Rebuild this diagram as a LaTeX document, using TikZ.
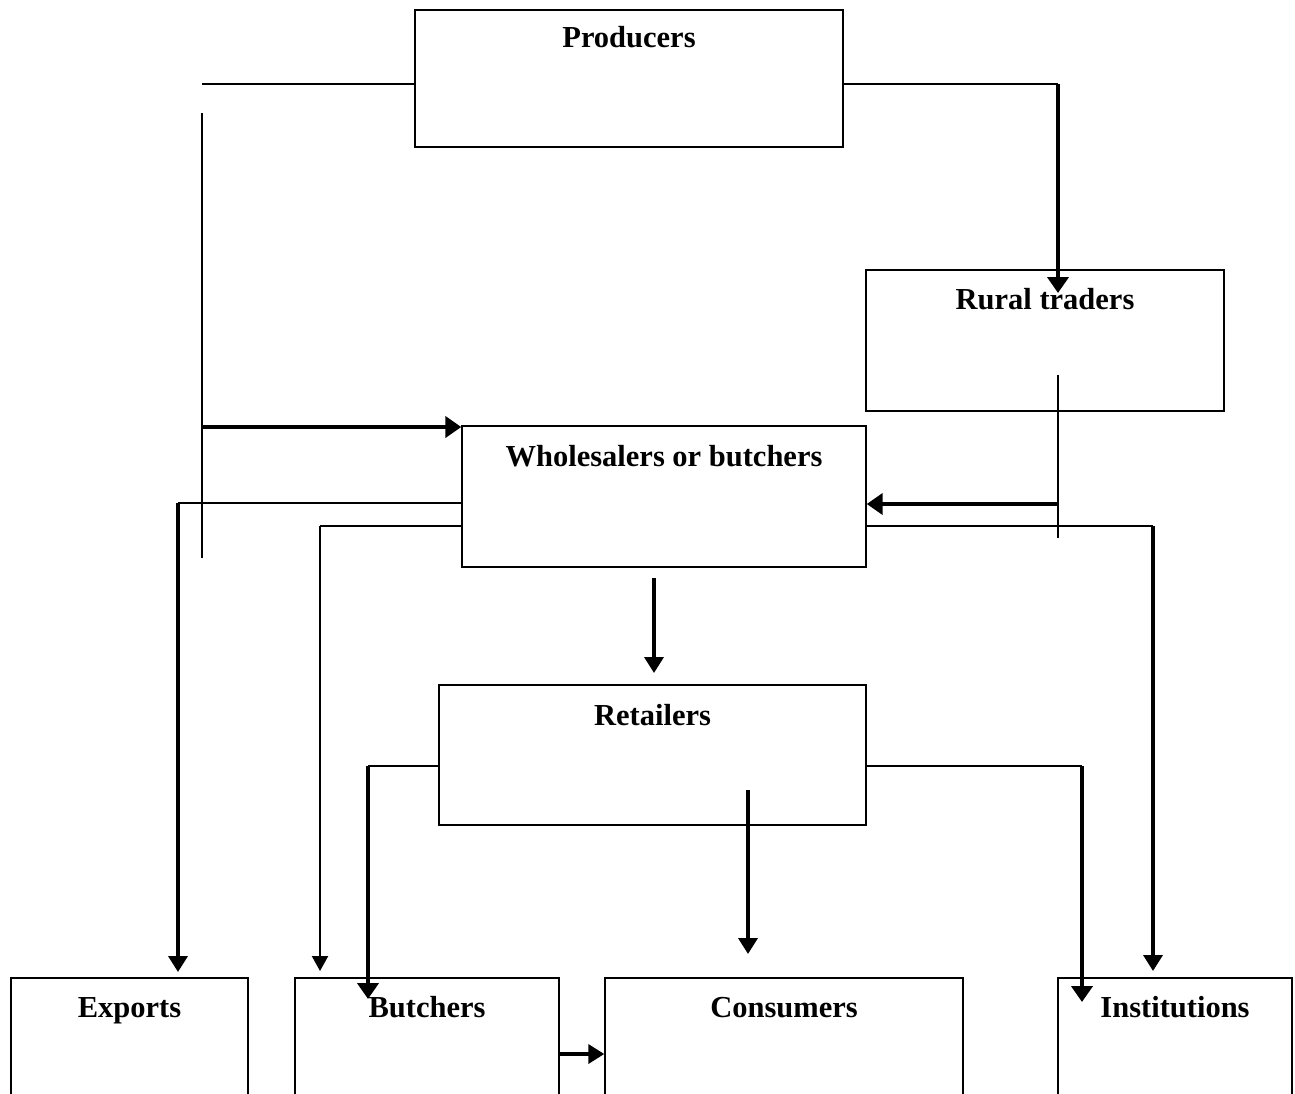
\documentclass[tikz,border=0pt]{standalone}
\usepackage{fontspec}
\setmainfont{Liberation Serif}
\usetikzlibrary{arrows.meta}
\begin{document}
\begin{tikzpicture}[x=1pt,y=-1pt,
  bx/.style={draw, line width=1.4pt, inner sep=0pt},
  lbl/.style={anchor=base, inner sep=0pt, font=\fontsize{30.5}{36}\selectfont\bfseries},
  thinl/.style={line width=1.4pt},
  medl/.style={line width=2.2pt, -{Triangle[length=15pt,width=16pt]}},
  thkl/.style={line width=3.6pt, -{Triangle[length=16pt,width=19pt]}},
  thkk/.style={line width=4.6pt, -{Triangle[length=16pt,width=21pt]}}]
\useasboundingbox (0,0) rectangle (1295,1093);
\clip (0,0) rectangle (1295,1093);
% boxes
\node[bx, minimum width=428pt, minimum height=137pt] (prod) at (629,78.5) {};
\node[bx, minimum width=358pt, minimum height=141pt] (rural) at (1045,340.5) {};
\node[bx, minimum width=404pt, minimum height=141pt] (whole) at (664,496.5) {};
\node[bx, minimum width=427pt, minimum height=140pt] (ret) at (652.5,755) {};
\node[bx, minimum width=237pt, minimum height=140pt] (exp) at (129.5,1048) {};
\node[bx, minimum width=264pt, minimum height=140pt] (butch) at (427,1048) {};
\node[bx, minimum width=358pt, minimum height=140pt] (cons) at (784,1048) {};
\node[bx, minimum width=234pt, minimum height=140pt] (inst) at (1175,1048) {};
% labels
\node[lbl] (prodT) at ([yshift=-38pt]prod.north) {Producers};
\node[lbl] (ruralT) at ([yshift=-40pt]rural.north) {Rural traders};
\node[lbl] (wholeT) at ([yshift=-41pt]whole.north) {Wholesalers or butchers};
\node[lbl] (retT) at ([yshift=-41pt]ret.north) {Retailers};
\node[lbl] (expT) at ([yshift=-40pt]exp.north) {Exports};
\node[lbl] (butchT) at ([yshift=-40pt]butch.north) {Butchers};
\node[lbl] (consT) at ([yshift=-40pt]cons.north) {Consumers};
\node[lbl] (instT) at ([yshift=-40pt]inst.north) {Institutions};
% coordinates
\coordinate (pL) at (202,84);
\coordinate (vT) at (202,113);
\coordinate (vB) at (202,558);
\coordinate (wA) at (202,427);
\coordinate (pR) at (1058,84);
\coordinate (rIn) at (1058,293);
\coordinate (rT) at (1058,375);
\coordinate (rB) at (1058,538);
\coordinate (rA) at (1058,504);
\coordinate (eA) at (178,503);
\coordinate (eB) at (178,972);
\coordinate (bA) at (320,526);
\coordinate (bB) at (320,971);
\coordinate (iA) at (1153,526);
\coordinate (iB) at (1153,971);
\coordinate (dA) at (654,578);
\coordinate (dB) at (654,673);
\coordinate (rbA) at (368,766);
\coordinate (rbB) at (368,999);
\coordinate (riA) at (1082,766);
\coordinate (riB) at (1082,1002);
\coordinate (rcA) at (748,790);
\coordinate (rcB) at (748,954);
\coordinate (bc) at (559,1054);
% connectors
\draw[thinl] (prod.west |- pL) -- (pL);
\draw[thinl] (vT) -- (vB);
\draw[thkk] (wA) -- (whole.west |- wA);
\draw[thinl] (prod.east |- pR) -- (pR);
\draw[thkk] (pR) -- (rIn);
\draw[thinl] (rT) -- (rB);
\draw[thkk] (rA) -- (whole.east |- rA);
\draw[thinl] (whole.west |- eA) -- (eA);
\draw[thkl] (eA) -- (eB);
\draw[thinl] (whole.west |- bA) -- (bA);
\draw[medl] (bA) -- (bB);
\draw[thinl] (whole.east |- iA) -- (iA);
\draw[thkl] (iA) -- (iB);
\draw[thkl] (dA) -- (dB);
\draw[thinl] (ret.west |- rbA) -- (rbA);
\draw[thkk] (rbA) -- (rbB);
\draw[thinl] (ret.east |- riA) -- (riA);
\draw[thkk] (riA) -- (riB);
\draw[thkl] (rcA) -- (rcB);
\draw[thkl] (butch.east |- bc) -- (cons.west |- bc);
\end{tikzpicture}
\end{document}
